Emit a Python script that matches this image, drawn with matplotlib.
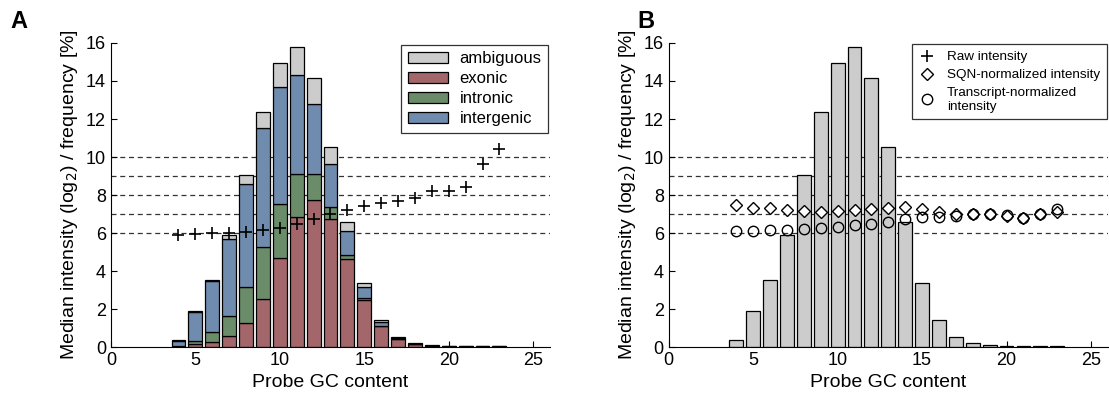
import matplotlib
matplotlib.use('Agg')
from matplotlib import pyplot as plt
from matplotlib.lines import Line2D
import numpy as np

plt.rcParams['font.family'] = ['Liberation Sans', 'DejaVu Sans']

# probe GC content bins
gc = np.arange(4, 24)

# frequency [%] per annotation class
exonic = [0.02, 0.15, 0.28, 0.58, 1.24, 2.53, 4.68, 6.86, 7.76, 6.73,
          4.63, 2.49, 1.11, 0.42, 0.15, 0.07, 0.02, 0.01, 0.01, 0.01]
intronic = [0.01, 0.17, 0.50, 1.06, 1.93, 2.74, 2.86, 2.26, 1.34, 0.64,
            0.19, 0.07, 0.02, 0.01, 0.005, 0, 0, 0, 0, 0]
intergenic = [0.28, 1.54, 2.67, 4.06, 5.42, 6.25, 6.17, 5.19, 3.71, 2.28,
              1.27, 0.62, 0.21, 0.05, 0.02, 0.01, 0.02, 0.02, 0.02, 0.02]
ambiguous = [0.04, 0.06, 0.09, 0.21, 0.46, 0.83, 1.25, 1.48, 1.33, 0.90,
             0.48, 0.18, 0.07, 0.05, 0.02, 0.01, 0.01, 0, 0, 0]

# median intensities (log2)
raw = [5.88, 5.94, 5.99, 6.02, 6.08, 6.15, 6.29, 6.50, 6.73, 7.01,
       7.21, 7.40, 7.56, 7.69, 7.86, 8.20, 8.20, 8.41, 9.65, 10.42]
sqn = [7.47, 7.33, 7.33, 7.21, 7.14, 7.12, 7.14, 7.21, 7.26, 7.31,
       7.35, 7.24, 7.13, 7.00, 6.98, 6.98, 6.89, 6.77, 6.98, 7.12]
transcript = [6.10, 6.13, 6.15, 6.18, 6.22, 6.27, 6.32, 6.41, 6.50, 6.59,
              6.73, 6.82, 6.86, 6.89, 6.98, 6.98, 6.93, 6.77, 6.98, 7.24]

c_amb = '#cccccc'
c_exo = '#a3676b'
c_int = '#6b8c69'
c_itg = '#6f8bad'

fig = plt.figure(figsize=(11.09, 3.98), dpi=100)
axA = fig.add_axes([0.100, 0.128, 0.396, 0.764])
axB = fig.add_axes([0.603, 0.128, 0.396, 0.764])

w = 0.82
bar_kw = dict(width=w, edgecolor='black', linewidth=0.9, zorder=2)


def style(ax):
    for y in [6, 7, 8, 9, 10]:
        ax.axhline(y, color='#333333', lw=0.9, ls=(0, (4, 3)), zorder=0)
    ax.set_xlim(0, 26)
    ax.set_ylim(0, 16)
    ax.set_xticks([0, 5, 10, 15, 20, 25])
    ax.set_yticks(range(0, 17, 2))
    ax.tick_params(direction='in', labelsize=13, length=4, width=0.8)
    ax.spines['top'].set_visible(False)
    ax.spines['right'].set_visible(False)
    ax.set_xlabel('Probe GC content', fontsize=14)
    ax.set_ylabel('Median intensity (log$_2$) / frequency [%]', fontsize=14)


# panel A: stacked frequencies + raw intensity
style(axA)
b1 = np.array(exonic)
b2 = b1 + np.array(intronic)
b3 = b2 + np.array(intergenic)
hE = axA.bar(gc, exonic, color=c_exo, **bar_kw)
hI = axA.bar(gc, intronic, bottom=b1, color=c_int, **bar_kw)
hG = axA.bar(gc, intergenic, bottom=b2, color=c_itg, **bar_kw)
hA = axA.bar(gc, ambiguous, bottom=b3, color=c_amb, **bar_kw)
axA.plot(gc, raw, '+', color='black', ms=8, mew=1.2, zorder=3)
legA = axA.legend([hA, hE, hI, hG], ['ambiguous', 'exonic', 'intronic', 'intergenic'],
                  loc='upper right', fontsize=12, frameon=True, fancybox=False,
                  edgecolor='black', borderaxespad=0.1, handlelength=2.4,
                  handleheight=0.6, handletextpad=0.7, labelspacing=0.3,
                  borderpad=0.4)
legA.get_frame().set_linewidth(0.9)

# panel B: total frequency + normalized intensities
style(axB)
total = b3 + np.array(ambiguous)
axB.bar(gc, total, color=c_amb, **bar_kw)
axB.plot(gc, sqn, 'D', mfc='white', mec='black', ms=6.5, mew=1.0, zorder=3)
axB.plot(gc, transcript, 'o', mfc='none', mec='black', ms=7.5, mew=1.0, zorder=3)
handles = [Line2D([], [], ls='none', marker='+', color='black', ms=8, mew=1.2),
           Line2D([], [], ls='none', marker='D', mfc='white', mec='black', ms=6.5),
           Line2D([], [], ls='none', marker='o', mfc='white', mec='black', ms=7.5)]
legB = axB.legend(handles, ['Raw intensity', 'SQN-normalized intensity',
                            'Transcript-normalized\nintensity'],
                  loc='upper right', fontsize=9.7, frameon=True, fancybox=False,
                  edgecolor='black', borderaxespad=0.1, handlelength=1.3,
                  handletextpad=0.8, labelspacing=0.4, borderpad=0.5)
legB.get_frame().set_linewidth(0.9)

fig.text(0.009, 0.93, 'A', fontsize=17, fontweight='bold')
fig.text(0.575, 0.93, 'B', fontsize=17, fontweight='bold')

fig.savefig('out.png', dpi=100)
